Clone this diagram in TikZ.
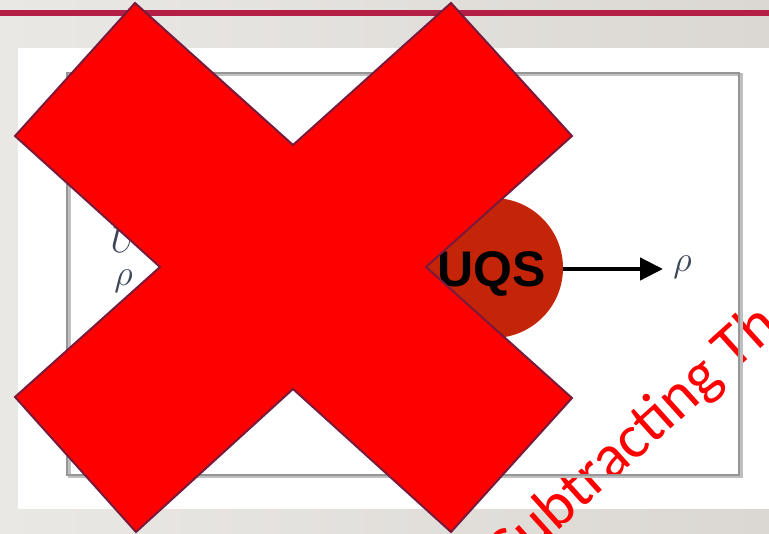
\documentclass[tikz,border=0pt]{standalone}
\usepackage{fontspec}
\newfontfamily\headfont{Liberation Sans}
\newfontfamily\stampfont{Carlito}
\usetikzlibrary{arrows.meta}
\definecolor{bgleft}{RGB}{234,232,229}
\definecolor{bgright}{RGB}{219,216,211}
\definecolor{barred}{RGB}{180,31,70}
\definecolor{framegray}{RGB}{150,150,150}
\definecolor{discred}{RGB}{196,36,8}
\definecolor{crossred}{RGB}{255,0,0}
\definecolor{crossedge}{RGB}{122,26,58}
\definecolor{labelink}{RGB}{60,70,85}
\tikzset{
  mathlabel/.style={inner sep=0pt, text=labelink, scale=1.75, font=\fontsize{20.74}{26}\selectfont},
  crossmark/.style={fill=crossred, draw=crossedge, line width=2pt, line join=miter},
  stamp/.style={inner sep=0pt, text=crossred, font=\stampfont\fontsize{62}{70}\selectfont},
  flow/.style={line width=4.5pt, -{Triangle[length=23pt,width=22pt]}}
}
\begin{document}
\begin{tikzpicture}[x=1pt,y=-1pt]
  \useasboundingbox (0,0) rectangle (769,534);
  % slide background and title rule
  \shade[left color=bgleft, right color=bgright] (0,0) rectangle (769,534);
  \fill[barred] (0,10) rectangle (769,16);
  % white content panel
  \fill[white] (18,48) rectangle (769,509);
  % rotated caption
  \node[stamp, rotate=42, anchor=base west] (caption) at (511,573) {Subtracting Th};
  % framed figure
  \draw[black!25, line width=3pt] (69,75) rectangle (741,477);
  \draw[framegray, line width=1.4pt] (67,73) rectangle (739,475);
  % inputs
  \node[mathlabel, anchor=base west] (inU) at (110,253) {$U$};
  \node[mathlabel, anchor=base west] (inRho) at (114,286) {$\rho$};
  % processing block and output
  \node[circle, fill=discred, minimum size=140pt, inner sep=0pt] (uqs) at (493,268) {};
  \node[inner sep=0pt, anchor=base, font=\headfont\bfseries\fontsize{50}{60}\selectfont] (uqstext) at (492,287) {UQS};
  \node[mathlabel, anchor=base west] (outRho) at (673,272) {$\rho$};
  \coordinate (tip) at (663,269);
  \draw[flow] (uqs.east |- tip) -- (tip);
  % cross mark
  \draw[crossmark] (135,3) -- (293,145) -- (451,3) -- (572,136) -- (426,267)
    -- (572,398) -- (451,532) -- (293,389) -- (136,532) -- (15,397)
    -- (160,267) -- (15,136) -- cycle;
\end{tikzpicture}
\end{document}
